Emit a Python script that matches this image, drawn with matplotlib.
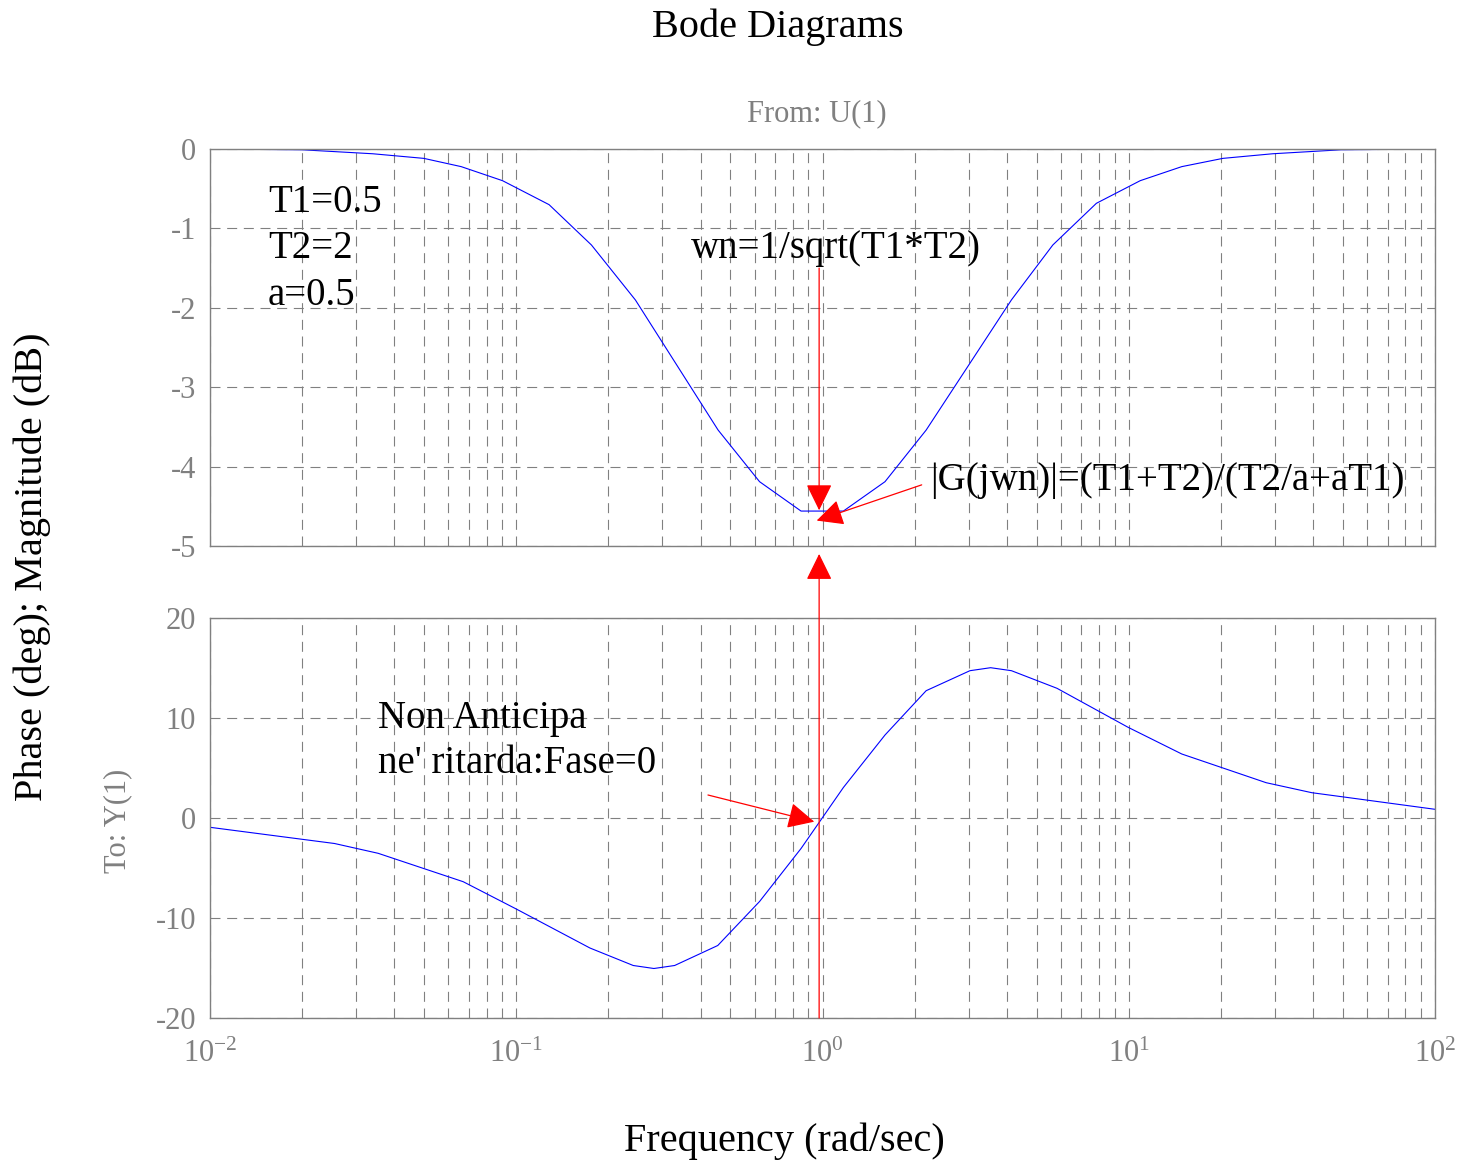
import matplotlib
matplotlib.use("Agg")
import matplotlib.pyplot as plt
from matplotlib.ticker import LogLocator, NullFormatter, FixedLocator

# values (lead-lag network T1=0.5, T2=2, a=0.5)
w_mag = [0.01, 0.02, 0.034, 0.0499, 0.0661, 0.0902, 0.128, 0.176, 0.245, 0.456,
         0.623, 0.851, 1.17, 1.60, 2.18, 4.14, 5.65, 7.84, 10.9, 14.9, 20.3,
         29.5, 49.3, 100]
mag_db = [0.0, -0.01, -0.06, -0.118, -0.222, -0.399, -0.701, -1.209, -1.902, -3.539,
          -4.19, -4.56, -4.56, -4.19, -3.54, -1.90, -1.209, -0.684, -0.399, -0.222, -0.118,
          -0.06, -0.01, 0.0]

w_phase = [0.01, 0.02, 0.0255, 0.0354, 0.0671, 0.1, 0.174, 0.241, 0.2815, 0.329,
           0.455, 0.623, 0.851, 1.17, 1.6, 2.18, 3.03, 3.54, 4.14, 5.83, 9.95,
           14.9, 28.1, 39.6, 49.3, 100]
phase_deg = [-0.93, -2.13, -2.55, -3.53, -6.37, -9.1, -13.0, -14.75, -15.05, -14.75,
             -12.75, -8.35, -3.05, 3.05, 8.3, 12.73, 14.73, 15.03, 14.73, 12.97, 9.07,
             6.4, 3.53, 2.53, 2.14, 0.87]

mag_ticks = [0, -1, -2, -3, -4, -5]
phase_ticks = [20, 10, 0, -10, -20]
freq_ticks = [1e-2, 1e-1, 1e0, 1e1, 1e2]
freq_labels = ['$10^{-2}$', '$10^{-1}$', '$10^{0}$', '$10^{1}$', '$10^{2}$']

wn = 0.975  # where the red marker line sits in the picture

plt.rcParams['font.family'] = ['Liberation Serif', 'DejaVu Serif']
plt.rcParams['mathtext.fontset'] = 'custom'
plt.rcParams['mathtext.rm'] = 'Liberation Serif'
plt.rcParams['mathtext.it'] = 'Liberation Serif:italic'

GRAY = '#808080'
W, H = 1464, 1160
fig = plt.figure(figsize=(W / 100, H / 100), dpi=100)

ax1 = fig.add_axes([210 / W, 1 - 546 / H, 1225 / W, 397 / H])
ax2 = fig.add_axes([210 / W, 1 - 1018 / H, 1225 / W, 400 / H])

ax1.plot(w_mag, mag_db, color='#0000ff', lw=0.8)
ax2.plot(w_phase, phase_deg, color='#0000ff', lw=0.8)

for ax, yt, ylim in ((ax1, mag_ticks, (-5, 0)), (ax2, phase_ticks, (-20, 20))):
    ax.set_xscale('log')
    ax.set_xlim(1e-2, 1e2)
    ax.set_ylim(*ylim)
    ax.yaxis.set_major_locator(FixedLocator(yt))
    ax.xaxis.set_major_locator(FixedLocator(freq_ticks))
    ax.xaxis.set_minor_locator(LogLocator(base=10, subs=range(2, 10)))
    ax.xaxis.set_minor_formatter(NullFormatter())
    ax.grid(True, which='major', axis='y', color=GRAY, lw=0.8, linestyle=(0, (9, 6)))
    ax.grid(True, which='both', axis='x', color=GRAY, lw=0.8, linestyle=(0, (9, 6)))
    ax.tick_params(which='both', direction='in', length=0, colors=GRAY,
                   labelsize=22, pad=10)
    for s in ax.spines.values():
        s.set_color(GRAY)
        s.set_linewidth(1.0)

ax1.set_yticklabels([str(t) for t in mag_ticks])
ax1.tick_params(axis='x', labelbottom=False)
ax2.set_yticklabels([str(t) for t in phase_ticks])
ax2.set_xticklabels(freq_labels)
ax2.tick_params(axis='x', pad=16)

# texts
ax1.text(0.01546, -0.79, 'T1=0.5', fontsize=28, va='baseline')
ax1.text(0.01546, -1.376, 'T2=2', fontsize=28, va='baseline')
ax1.text(0.01546, -1.965, 'a=0.5', fontsize=28, va='baseline')
ax1.text(0.3726, -1.376, 'wn=1/sqrt(T1*T2)', fontsize=28, va='baseline')
ax1.text(2.254, -4.29, '|G(jwn)|=(T1+T2)/(T2/a+aT1)', fontsize=28, va='baseline')
ax2.text(0.03544, 9.03, 'Non Anticipa', fontsize=28, va='baseline')
ax2.text(0.03544, 4.47, "ne' ritarda:Fase=0", fontsize=28, va='baseline')

# red arrows
arrow = dict(arrowstyle='-|>,head_length=0.55,head_width=0.27', color='red',
             lw=0.9, mutation_scale=30, shrinkA=0, shrinkB=0)
ax1.annotate('', xy=(wn, -4.55), xytext=(wn, -1.5), arrowprops=arrow,
             annotation_clip=False, zorder=5)
ax1.annotate('', xy=(0.957, -4.68), xytext=(2.108, -4.23), arrowprops=arrow,
             annotation_clip=False, zorder=5)
ax2.annotate('', xy=(wn, -5.1), xycoords=ax1.transData, xytext=(wn, -20),
             textcoords='data', arrowprops=arrow, annotation_clip=False, zorder=5)
ax2.annotate('', xy=(0.94, -0.37), xytext=(0.4227, 2.3), arrowprops=arrow,
             annotation_clip=False, zorder=5)

# figure labels
fig.text(778 / W, 1 - 36.7 / H, 'Bode Diagrams', fontsize=29, ha='center', va='baseline')
fig.text(816.5 / W, 1 - 121.5 / H, 'From: U(1)', fontsize=22, color=GRAY,
         ha='center', va='baseline')
fig.text(32 / W, 1 - 566.5 / H, 'Phase (deg); Magnitude (dB)', fontsize=29,
         rotation=90, ha='center', va='center')
fig.text(118 / W, 1 - 821 / H, 'To: Y(1)', fontsize=22, color=GRAY,
         rotation=90, ha='center', va='center')
fig.text(784 / W, 1 - 1141 / H, 'Frequency (rad/sec)', fontsize=29,
         ha='center', va='center')

fig.savefig('out.png', dpi=100)
